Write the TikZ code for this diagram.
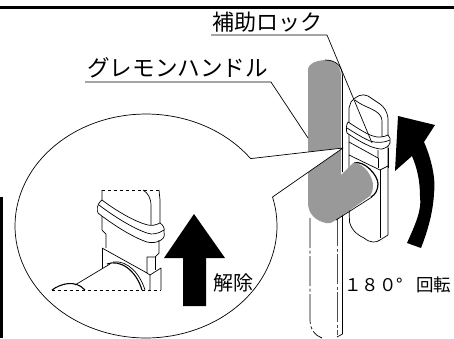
\documentclass[tikz,border=0pt]{standalone}
\usepackage{fontspec}
\setmainfont{Noto Sans CJK JP}
\definecolor{hgray}{HTML}{999999}
\begin{document}
\begin{tikzpicture}[x=1pt,y=-1pt,line join=round,
  ln/.style={draw=black,line width=0.7pt},
  thin ln/.style={draw=black,line width=0.6pt},
  thickbar/.style={fill=black,draw=none},
  lab/.style={inner sep=0pt,anchor=base west,font=\fontsize{22.6}{22.6}\selectfont},
  phantomln/.style={draw=black,line width=0.7pt,dash pattern=on 30pt off 2.5pt on 3pt off 2.5pt}]
\useasboundingbox (0,0) rectangle (454,338);
\fill[white] (0,0) rectangle (454,338);
% frame bars
\fill[thickbar] (0,5.5) rectangle (454,8.5);
\fill[thickbar] (0,197) rectangle (3,338);
% rotated handle, phantom
\draw[phantomln] (310,218) -- (310,320) .. controls (310,330) and (316,336) .. (322,338);
\draw[phantomln,draw=black!70] (337,216) -- (337,335);
\draw[ln] (342.5,212) -- (342.5,334) -- (337,337);
% backplate
\draw[ln,fill=white] (349,205) -- (349.5,222) .. controls (352,232) and (360,236) .. (364,238)
  .. controls (370,243) and (376,243) .. (380,240) -- (388,235) -- (388,118)
  .. controls (387,111) and (384,107) .. (380,104) -- (368,96) .. controls (362,93) and (356,96) .. (351,102)
  -- (349,108) -- (349,205);
\draw[ln] (355,100) .. controls (362,106) and (372,108) .. (378,113) .. controls (381,116) and (382,118) .. (382,122) -- (382,137);
\draw[ln,fill=white] (348,122) .. controls (356,127) and (366,134) .. (373,136) .. controls (378,138) and (384,137) .. (388,135)
  .. controls (390,137) and (391,140) .. (390,143) .. controls (389,146) and (386,148) .. (382,149) .. controls (378,149) and (375,148) .. (372,147)
  .. controls (364,144) and (354,138) .. (347,133) .. controls (346,130) and (346,125) .. (348,122) -- cycle;
\draw[ln] (347,128) .. controls (355,133) and (363,138) .. (370,141) .. controls (376,143) and (384,143) .. (390,140);
\draw[ln] (349,142) -- (378,158) -- (378,150);
\draw[ln] (349,155) -- (380,170) -- (388,166);
\draw[ln] (378,158) -- (378,168) (388,148) -- (388,168);
\draw[ln] (380,170) -- (380,238);
% lever end arcs
\draw[ln,line width=1.2pt] (354,163) .. controls (364,160) and (378,175) .. (378,184) .. controls (378,190) and (375,195) .. (371,197);
% gray handle
\fill[hgray] (308,70) .. controls (308,63) and (318,60) .. (327,60) .. controls (336,60) and (341,68) .. (341,76)
  -- (341,175) -- (353,163) .. controls (364,162) and (374,178) .. (373,187) .. controls (373,190) and (372,193) .. (370,196)
  -- (336,220) .. controls (333,222) and (330,224) .. (326,223) .. controls (316,221) and (308,214) .. (308,203) -- cycle;
\draw[ln] (325,60) .. controls (336,60) and (342,66) .. (342.5,76) -- (342.5,172);
\draw[ln] (336,220) -- (372,197);
% callout balloon
\draw[ln,fill=white] plot[samples=120,domain=-15:323] ({146+131*cos(\x)},{226+112*sin(\x)}) -- (343,148) -- cycle;
% inset
\draw[thin ln,dashed] (102,190) -- (159,190);
\draw[ln] (102,190) -- (102,202) (143,190) .. controls (148,193) and (151,198) .. (151,206) -- (151,225) (159,190) -- (160,200) -- (160,223);
\draw[ln,fill=white] (102,200) .. controls (115,210) and (135,222) .. (148,225) .. controls (152,226) and (156,225) .. (160,223)
  .. controls (163,225) and (165,228) .. (164,232) .. controls (165,236) and (164,238) .. (161,240) .. controls (157,243) and (151,243) .. (147,242)
  .. controls (132,237) and (112,224) .. (98,213) .. controls (97,210) and (96,205) .. (102,200) -- cycle;
\draw[ln] (99,205) .. controls (112,215) and (132,228) .. (147,233) .. controls (152,235) and (158,234) .. (164,230);
\draw[ln] (102,216) -- (102,230) -- (106,234) -- (106,248) (159,240) -- (159,253);
\draw[ln] (102,248) -- (147,273) -- (147,257) -- (155,257) -- (159,253);
\draw[ln] (102,248) -- (102,268);
\draw[ln] (155,257) -- (155,270);
\draw[ln] (150,275) -- (161,268) -- (161,290);
\draw[ln] (147,273) -- (150,275) -- (150,290);
\draw[ln] (75,285) -- (110,264);
\draw[ln,line width=1.1pt] (107,264) .. controls (120,259) and (136,270) .. (142,290);
\draw[ln] (113,262) .. controls (128,260) and (140,274) .. (145,290);
\draw[ln,line width=1.1pt] (52,290) .. controls (60,284) and (75,279) .. (85,290);
\draw[thin ln,dashed] (52,290) -- (161,290);
% arrows
\fill[black] (194,214) -- (225,258) -- (206,258) -- (206,306) -- (183,306) -- (183,258) -- (164,258) -- cycle;
\fill[black] (398,116) -- (435,125) -- (424,142) .. controls (431,158) and (436,178) .. (434,193) .. controls (433,215) and (426,235) .. (421,248)
  -- (407,243) .. controls (415,225) and (422,210) .. (420,197) .. controls (420,180) and (417,168) .. (412,156) -- (395,171) -- cycle;
% labels
\node[lab] (grip) at (87,76) {グレモンハンドル};
\node[lab,font=\fontsize{22}{22}\selectfont] (lock) at (212,30) {補助ロック};
\node[inner sep=0pt,anchor=base west,font=\fontsize{20}{20}\selectfont] (release) at (213,290) {解除};
\node[inner sep=0pt,anchor=base west,font=\fontsize{17.5}{17.5}\selectfont] (rot) at (344,291) {１８０°\hspace{13pt}回転};
% leaders
\coordinate (gripA) at (85,82); \coordinate (gripB) at (271,82); \coordinate (gripC) at (308,138);
\coordinate (lockA) at (211,35); \coordinate (lockB) at (327,35); \coordinate (lockC) at (372,143);
\draw[ln] (gripA) -- (gripB) -- (gripC);
\draw[ln] (lockA) -- (lockB) -- (lockC);
\end{tikzpicture}
\end{document}
